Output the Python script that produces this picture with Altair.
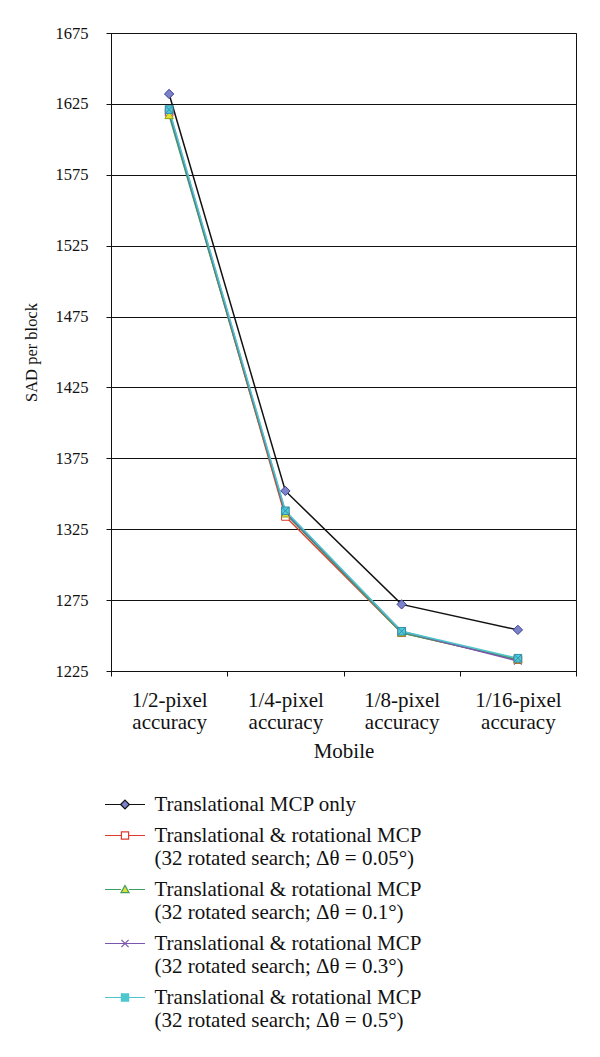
import altair as alt
import pandas as pd

categories = ["1/2-pixel accuracy", "1/4-pixel accuracy", "1/8-pixel accuracy", "1/16-pixel accuracy"]

series_names = [
    "Translational MCP only",
    "Translational & rotational MCP\n(32 rotated search; \u0394\u03b8 = 0.05\u00b0)",
    "Translational & rotational MCP\n(32 rotated search; \u0394\u03b8 = 0.1\u00b0)",
    "Translational & rotational MCP\n(32 rotated search; \u0394\u03b8 = 0.3\u00b0)",
    "Translational & rotational MCP\n(32 rotated search; \u0394\u03b8 = 0.5\u00b0)",
]

translational_only = [1632, 1352, 1272, 1254]
rot_005 = [1619, 1334, 1252, 1233]
rot_01 = [1617, 1336, 1252, 1233]
rot_03 = [1620, 1337, 1253, 1232]
rot_05 = [1621, 1338, 1253, 1234]

all_values = [translational_only, rot_005, rot_01, rot_03, rot_05]

line_colors = ["#111111", "#e03a2e", "#3c9e62", "#7b55ae", "#4cc6cc"]
marker_fills = ["#7b82c9", "#ffffff", "#e2e232", "#7b55ae", "#52cad4"]
marker_strokes = ["#3d428c", "#e03a2e", "#8fa21e", "#7b55ae", "#2f8fb0"]
line_widths = [1.5, 1.5, 1.5, 1.5, 2.5]

marker_paths = [
    "M0,-1.1L1.1,0L0,1.1L-1.1,0Z",
    "M-0.9,-0.9H0.9V0.9H-0.9Z",
    "M0,-1L1,0.8H-1Z",
    "M-0.9,-0.9L0.9,0.9M-0.9,0.9L0.9,-0.9",
    "M-0.9,-0.9H0.9V0.9H-0.9ZM-0.9,-0.9L0.9,0.9M-0.9,0.9L0.9,-0.9",
]
legend_paths = [
    "M-5,0H-1.1M1.1,0H5M0,-1.1L1.1,0L0,1.1L-1.1,0Z",
    "M-5,0H-0.9M0.9,0H5M-0.9,-0.9H0.9V0.9H-0.9Z",
    "M-5,0H-1M1,0H5M0,-1L1,0.8H-1Z",
    "M-5,0H5M-0.9,-0.9L0.9,0.9M-0.9,0.9L0.9,-0.9",
    "M-5,0H-0.9M0.9,0H5M-0.9,-0.9H0.9V0.9H-0.9ZM-0.9,-0.9L0.9,0.9M-0.9,0.9L0.9,-0.9",
]

rows = []
for si, (name, vals) in enumerate(zip(series_names, all_values)):
    for ci, (cat, v) in enumerate(zip(categories, vals)):
        rows.append({"series": name, "sidx": si, "category": cat, "cidx": ci, "value": v})
df = pd.DataFrame(rows)

FONT = "Liberation Serif"

x_enc = alt.X(
    "category:N",
    sort=categories,
    bandPosition=0.5,
    scale=alt.Scale(type="band", paddingInner=0, paddingOuter=0),
    axis=alt.Axis(
        title="Mobile",
        labelExpr="split(datum.label, ' ')",
        labelFont=FONT,
        labelFontSize=21,
        labelLineHeight=22,
        labelColor="#111",
        labelPadding=13,
        labelAngle=0,
        tickBand="extent",
        tickSize=5,
        tickColor="#111",
        domainColor="#111",
        titleFont=FONT,
        titleFontSize=21,
        titleFontWeight="normal",
        titleColor="#111",
        titlePadding=8,
        grid=False,
    ),
)
y_enc = alt.Y(
    "value:Q",
    scale=alt.Scale(domain=[1225, 1675], nice=False, zero=False),
    axis=alt.Axis(
        title="SAD per block",
        values=list(range(1225, 1676, 50)),
        format="d",
        labelFont=FONT,
        labelFontSize=16.5,
        labelColor="#111",
        labelPadding=18,
        tickSize=5,
        tickColor="#111",
        domainColor="#111",
        gridColor="#111",
        gridWidth=1,
        titleFont=FONT,
        titleFontSize=16.5,
        titleFontWeight="normal",
        titleColor="#111",
        titlePadding=16,
    ),
)

lines = alt.Chart(df).mark_line().encode(
    x=x_enc,
    y=y_enc,
    color=alt.Color("sidx:N", scale=alt.Scale(domain=list(range(5)), range=line_colors), legend=None),
    strokeWidth=alt.StrokeWidth("sidx:N", scale=alt.Scale(domain=list(range(5)), range=line_widths), legend=None),
    order=alt.Order("cidx:Q"),
)

marker_layers = []
for i, name in enumerate(series_names):
    marker_layers.append(
        alt.Chart(df)
        .transform_filter(alt.datum.sidx == i)
        .mark_point(
            shape=marker_paths[i],
            size=72,
            filled=True,
            fill=marker_fills[i],
            stroke=marker_strokes[i],
            strokeWidth=1,
            opacity=1,
        )
        .encode(x=x_enc, y=y_enc)
    )

legend_spec = alt.Legend(
    title=None,
    orient="none",
    legendX=-6,
    legendY=761,
    direction="vertical",
    labelFont=FONT,
    labelFontSize=21,
    labelColor="#111",
    labelLimit=500,
    labelExpr="split(datum.label, '\\n')",
    labelBaseline="middle",
    symbolSize=64,
    symbolStrokeWidth=1.2,
    symbolOpacity=1,
    symbolOffset=9.5,
    labelOffset=19,
    rowPadding=9,
    padding=0,
)

legend_layer = (
    alt.Chart(df)
    .transform_filter("false")
    .mark_point(filled=True, size=64)
    .encode(
        x=x_enc,
        y=y_enc,
        shape=alt.Shape("series:N", scale=alt.Scale(domain=series_names, range=legend_paths), legend=legend_spec),
        fill=alt.Fill("series:N", scale=alt.Scale(domain=series_names, range=marker_fills), legend=legend_spec),
        stroke=alt.Stroke("series:N", scale=alt.Scale(domain=series_names, range=line_colors), legend=legend_spec),
    )
)

chart = (
    alt.layer(lines, *marker_layers, legend_layer)
    .properties(width=465, height=638, padding={"left": 15, "top": 17, "right": 5, "bottom": 5})
    .configure_view(stroke="#111", strokeWidth=1)
    .configure_axis(domainWidth=1, tickWidth=1)
)

chart.save("out.html", embed_options={"renderer": "svg", "actions": False})
